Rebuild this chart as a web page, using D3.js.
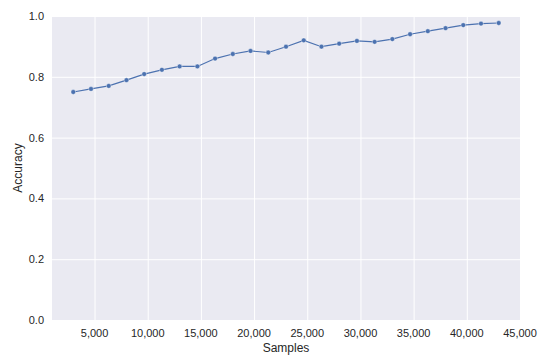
<!DOCTYPE html>
<html>
<head>
<meta charset="utf-8">
<script src="https://cdn.jsdelivr.net/npm/d3@7"></script>
<style>
  body { margin: 0; background: #fff; }
  svg text { font-family: "Liberation Sans", Arial, sans-serif; fill: #262626; }
</style>
</head>
<body>
<svg width="550" height="359"></svg>
<script>
// サンプル数
var samples = [3000, 4667, 6333, 8000, 9667, 11333, 13000, 14667, 16333, 18000,
    19667, 21333, 23000, 24667, 26333, 28000, 29667, 31333, 33000, 34667,
    36333, 38000, 39667, 41333, 43000];
// 精度
var accuracy = [0.750, 0.760, 0.770, 0.789, 0.809, 0.823, 0.834, 0.834, 0.860, 0.875,
    0.885, 0.880, 0.899, 0.920, 0.899, 0.909, 0.918, 0.915, 0.924, 0.940,
    0.950, 0.960, 0.970, 0.975, 0.977];
var xTicks = [5000, 10000, 15000, 20000, 25000, 30000, 35000, 40000, 45000];
var yTicks = [0, 0.2, 0.4, 0.6, 0.8, 1.0];

var svg = d3.select("svg"),
    margin = {left: 52, top: 16, right: 30, bottom: 39},
    width = +svg.attr("width") - margin.left - margin.right,
    height = +svg.attr("height") - margin.top - margin.bottom;

var data = samples.map(function (s, i) { return {x: s, y: accuracy[i]}; });

// matplotlib風の5%マージン
var pad = (d3.max(samples) - d3.min(samples)) * 0.05;
var x = d3.scaleLinear()
    .domain([d3.min(samples) - pad, d3.max(samples) + pad])
    .range([0, width]);
var y = d3.scaleLinear().domain([0, 1]).range([height, 0]);

var g = svg.append("g")
    .attr("transform", "translate(" + margin.left + "," + margin.top + ")");

// 背景
g.append("rect")
    .attr("width", width)
    .attr("height", height)
    .attr("fill", "#EAEAF2");

// グリッド
g.append("g")
    .attr("transform", "translate(0," + height + ")")
    .call(d3.axisBottom(x).tickValues(xTicks.filter(function (t) { return t <= x.domain()[1]; }))
        .tickSize(-height).tickFormat(""))
    .call(function (a) {
        a.select(".domain").remove();
        a.selectAll("line").attr("stroke", "#fff").attr("stroke-width", 1);
    });
g.append("g")
    .call(d3.axisLeft(y).tickValues(yTicks).tickSize(-width).tickFormat(""))
    .call(function (a) {
        a.select(".domain").remove();
        a.selectAll("line").attr("stroke", "#fff").attr("stroke-width", 1);
    });

// x軸ラベル（45,000はプロット外にも表示）
var fmt = d3.format(",");
svg.append("g")
    .selectAll("text")
    .data(xTicks)
    .enter().append("text")
    .attr("x", function (d) { return margin.left + x(d); })
    .attr("y", margin.top + height + 17)
    .attr("text-anchor", "middle")
    .attr("font-size", "11px")
    .text(function (d) { return fmt(d); });

svg.append("g")
    .selectAll("text")
    .data(yTicks)
    .enter().append("text")
    .attr("x", margin.left - 8)
    .attr("y", function (d) { return margin.top + y(d) + 4; })
    .attr("text-anchor", "end")
    .attr("font-size", "11px")
    .text(function (d) { return d.toFixed(1); });

svg.append("text")
    .attr("x", margin.left + width / 2)
    .attr("y", margin.top + height + 32)
    .attr("text-anchor", "middle")
    .attr("font-size", "12px")
    .text("Samples");

svg.append("text")
    .attr("transform", "translate(22," + (margin.top + height / 2) + ") rotate(-90)")
    .attr("text-anchor", "middle")
    .attr("font-size", "12px")
    .text("Accuracy");

// 折れ線
var line = d3.line()
    .x(function (d) { return x(d.x); })
    .y(function (d) { return y(d.y); });

g.append("path")
    .datum(data)
    .attr("fill", "none")
    .attr("stroke", "#4C72B0")
    .attr("stroke-width", 1.2)
    .attr("d", line);

g.append("g")
    .selectAll("circle")
    .data(data)
    .enter().append("circle")
    .attr("cx", function (d) { return x(d.x); })
    .attr("cy", function (d) { return y(d.y); })
    .attr("r", 2.4)
    .attr("fill", "#4C72B0")
    .attr("stroke", "#fff")
    .attr("stroke-width", 0.4);
</script>
</body>
</html>
